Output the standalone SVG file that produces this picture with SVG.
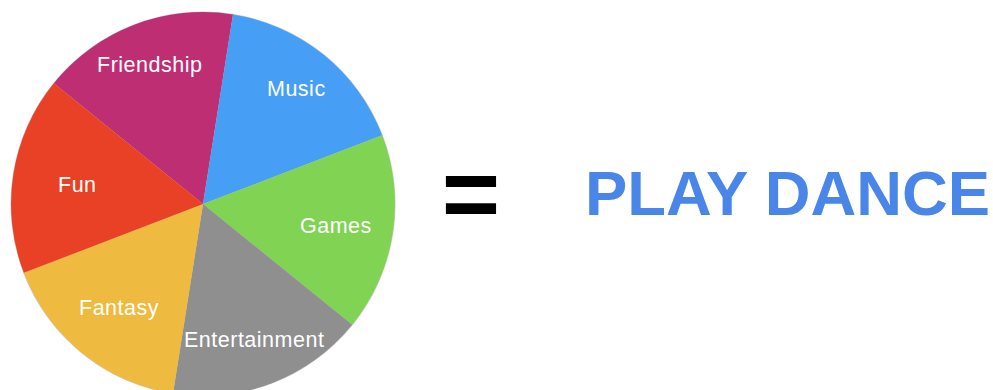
<svg xmlns="http://www.w3.org/2000/svg" width="993" height="390" viewBox="0 0 993 390">
<style>
.slice{stroke:none}
.lbl{font-family:"Liberation Sans",Arial,sans-serif;font-size:21.5px;letter-spacing:0.5px;fill:#ffffff}
.big{font-family:"Liberation Sans",Arial,sans-serif;font-weight:bold}
</style>
<rect width="993" height="390" fill="#ffffff"/>
<g id="pie">
<circle cx="203" cy="204" r="192.5" fill="#cfcfcf"/>
<g id="friendship"><path class="slice" d="M203,204 L53.8,83.2 A192,192 0 0 1 233.0,14.4 Z" fill="#BE2E72"/><text class="lbl" x="97" y="72">Friendship</text></g>
<g id="music"><path class="slice" d="M203,204 L233.0,14.4 A192,192 0 0 1 382.2,135.2 Z" fill="#479EF5"/><text class="lbl" x="267" y="96">Music</text></g>
<g id="games"><path class="slice" d="M203,204 L382.2,135.2 A192,192 0 0 1 352.2,324.8 Z" fill="#80D353"/><text class="lbl" x="300" y="233">Games</text></g>
<g id="entertainment"><path class="slice" d="M203,204 L352.2,324.8 A192,192 0 0 1 173.0,393.6 Z" fill="#8F8F8F"/><text class="lbl" x="184" y="347">Entertainment</text></g>
<g id="fantasy"><path class="slice" d="M203,204 L173.0,393.6 A192,192 0 0 1 23.8,272.8 Z" fill="#EEBA40"/><text class="lbl" x="79" y="315">Fantasy</text></g>
<g id="fun"><path class="slice" d="M203,204 L23.8,272.8 A192,192 0 0 1 53.8,83.2 Z" fill="#E84125"/><text class="lbl" x="58" y="192">Fun</text></g>
</g>
<g id="equals"><text class="big" x="471" y="228" font-size="100" text-anchor="middle" fill="#000000">=</text></g>
<g id="result"><text class="big" x="585" y="215" font-size="63.4" fill="#4A86E8">PLAY DANCE</text></g>
</svg>
